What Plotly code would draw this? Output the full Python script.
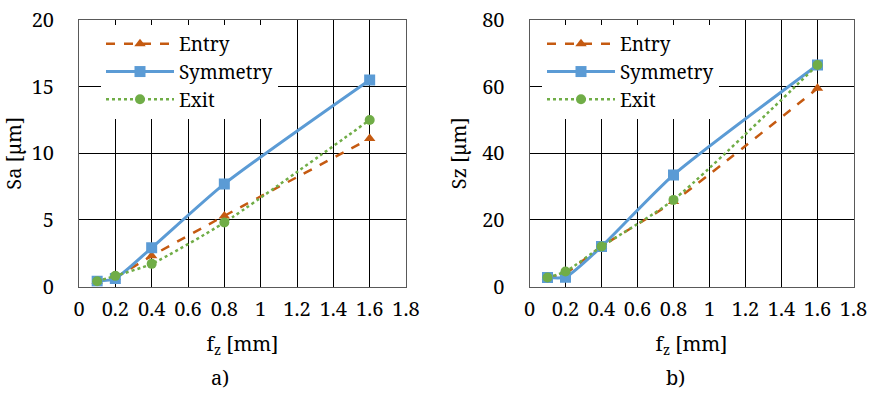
import plotly.graph_objects as go

fz = [0.1, 0.2, 0.4, 0.8, 1.6]
series_names = ["Entry", "Symmetry", "Exit"]

sa_entry = [0.4, 0.7, 2.3, 5.3, 11.1]
sa_symmetry = [0.4, 0.6, 2.9, 7.7, 15.5]
sa_exit = [0.4, 0.8, 1.7, 4.8, 12.5]

sz_entry = [2.7, 4.0, 12.0, 25.5, 59.5]
sz_symmetry = [2.7, 2.8, 12.0, 33.5, 66.5]
sz_exit = [2.7, 4.5, 12.0, 26.0, 66.5]

x_ticks = [0, 0.2, 0.4, 0.6, 0.8, 1, 1.2, 1.4, 1.6, 1.8]
x_tick_text = ["0", "0.2", "0.4", "0.6", "0.8", "1", "1.2", "1.4", "1.6", "1.8"]

FONT = "Noto Serif, Liberation Serif, Times New Roman, serif"
FS = 20
colors = {"Entry": "#C55A11", "Symmetry": "#5B9BD5", "Exit": "#70AD47"}
dashes = {"Entry": "dash", "Symmetry": "solid", "Exit": "dot"}
symbols = {"Entry": "triangle-up", "Symmetry": "square", "Exit": "circle"}
widths = {"Entry": 2.5, "Symmetry": 3, "Exit": 2.5}
msize = {"Entry": 10, "Symmetry": 11, "Exit": 10}

fig = go.Figure()

left = {"Entry": sa_entry, "Symmetry": sa_symmetry, "Exit": sa_exit}
right = {"Entry": sz_entry, "Symmetry": sz_symmetry, "Exit": sz_exit}

for data, xa, ya, leg in [(left, "x", "y", "legend"), (right, "x2", "y2", "legend2")]:
    for name in series_names:
        fig.add_trace(go.Scatter(
            x=fz, y=data[name], name=name, mode="lines+markers",
            xaxis=xa, yaxis=ya, legend=leg,
            line=dict(color=colors[name], dash=dashes[name], width=widths[name],
                      shape="spline", smoothing=0.6),
            marker=dict(symbol=symbols[name], size=msize[name], color=colors[name]),
        ))

axis_common = dict(
    showgrid=True, gridcolor="#000000", gridwidth=1,
    showline=True, linecolor="#595959", linewidth=1, mirror=True,
    zeroline=False, ticks="", automargin=False,
    tickfont=dict(family=FONT, size=FS, color="#000"),
    title_font=dict(family=FONT, size=FS, color="#000"),
)

y0, y1 = (393 - 286.5) / 393, (393 - 20) / 393

legend_common = dict(xanchor="left", yanchor="top", bgcolor="white",
                     font=dict(family=FONT, size=19, color="#000"),
                     tracegroupgap=0, itemwidth=68)

fig.update_layout(
    width=870, height=393,
    margin=dict(l=0, r=0, t=0, b=0, autoexpand=False),
    paper_bgcolor="white", plot_bgcolor="white",
    font=dict(family=FONT, size=FS, color="#000"),
    showlegend=True,
    xaxis=dict(domain=[79 / 870, 406 / 870], range=[0, 1.8], tickvals=x_ticks, ticktext=x_tick_text,
               ticklabelstandoff=4, title=dict(text="f<sub>z</sub> [mm]", standoff=16), **axis_common),
    yaxis=dict(domain=[y0, y1], range=[0, 20], tickvals=[0, 5, 10, 15, 20],
               ticklabelstandoff=20, title=dict(text="Sa [µm]", standoff=8), **axis_common),
    xaxis2=dict(domain=[529.5 / 870, 853.5 / 870], range=[0, 1.8], tickvals=x_ticks, ticktext=x_tick_text,
                ticklabelstandoff=4, title=dict(text="f<sub>z</sub> [mm]", standoff=16), anchor="y2", **axis_common),
    yaxis2=dict(domain=[y0, y1], range=[0, 80], tickvals=[0, 20, 40, 60, 80],
                ticklabelstandoff=20, title=dict(text="Sz [µm]", standoff=10), anchor="x2", **axis_common),
    legend=dict(x=101 / 870, y=1 - 25 / 393, **legend_common),
    legend2=dict(x=542 / 870, y=1 - 25 / 393, **legend_common),
    annotations=[
        dict(text="a)", x=220 / 870, y=0, xref="paper", yref="paper",
             showarrow=False, font=dict(family=FONT, size=FS), xanchor="center", yanchor="bottom"),
        dict(text="b)", x=675 / 870, y=0, xref="paper", yref="paper",
             showarrow=False, font=dict(family=FONT, size=FS), xanchor="center", yanchor="bottom"),
    ],
)

fig.write_html("out.html")
